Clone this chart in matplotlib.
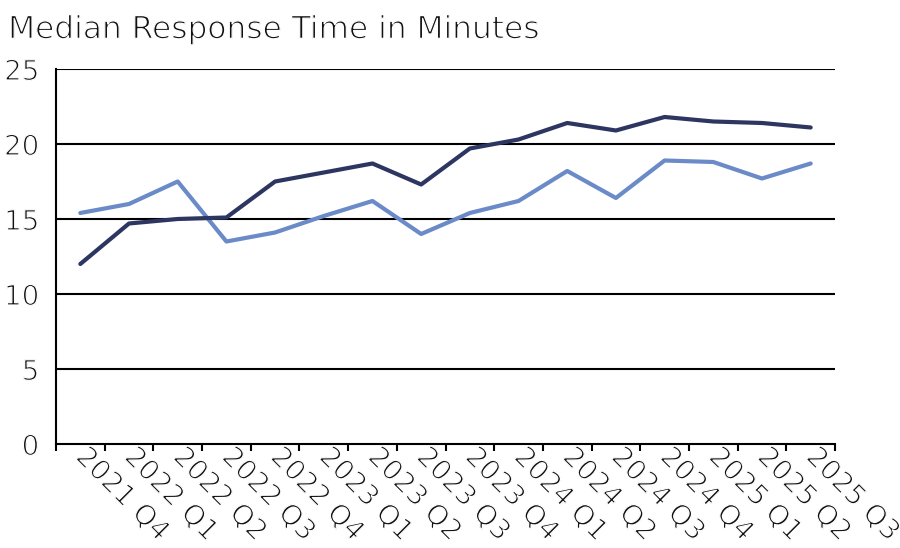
import matplotlib.pyplot as plt
import matplotlib.patheffects as pe
import numpy as np

quarters = ["2021 Q4", "2022 Q1", "2022 Q2", "2022 Q3", "2022 Q4",
            "2023 Q1", "2023 Q2", "2023 Q3", "2023 Q4", "2024 Q1",
            "2024 Q2", "2024 Q3", "2024 Q4", "2025 Q1", "2025 Q2", "2025 Q3"]
series_dark = [12.0, 14.7, 15.0, 15.1, 17.5, 18.1, 18.7, 17.3,
               19.7, 20.3, 21.4, 20.9, 21.8, 21.5, 21.4, 21.1]
series_light = [15.4, 16.0, 17.5, 13.5, 14.1, 15.2, 16.2, 14.0,
                15.4, 16.2, 18.2, 16.4, 18.9, 18.8, 17.7, 18.7]

plt.rcParams['font.family'] = ['DejaVu Sans']
text_color = "#111111"
# thin the glyphs a little with a white outline drawn over them
thin = [pe.Normal(), pe.Stroke(linewidth=0.9, foreground='white')]

fig = plt.figure(figsize=(9, 5.48), dpi=100)
ax = fig.add_axes([0.0622, 0.1898, 0.8656, 0.6843])

x = np.arange(len(quarters))
ax.plot(x, series_light, color="#6a8ac8", lw=3, solid_capstyle='round', zorder=3)
ax.plot(x, series_dark, color="#2d3561", lw=3, solid_capstyle='round', zorder=3)

ax.set_xlim(-0.5, len(quarters) - 0.5)
ax.set_ylim(0, 25)
ax.set_yticks(range(0, 26, 5))
ax.tick_params(axis='y', length=0, pad=12, labelsize=20, labelcolor=text_color)
for yv in range(5, 26, 5):
    ax.axhline(yv, color='black', lw=1.5, zorder=1)

# ticks sit between categories, labels at the centres
ax.set_xticks(np.arange(len(quarters) + 1) - 0.5, minor=False)
ax.set_xticklabels([])
ax.tick_params(axis='x', which='major', length=5, width=1.5, direction='out')
ax.set_xticks(x, minor=True)
ax.set_xticklabels(quarters, minor=True, rotation=-45, ha='left',
                   va='center', rotation_mode='anchor', fontsize=20,
                   color=text_color)
ax.tick_params(axis='x', which='minor', length=0, pad=6)

for lbl in ax.get_yticklabels() + ax.get_xticklabels(minor=True):
    lbl.set_path_effects(thin)

for side in ['top', 'right']:
    ax.spines[side].set_visible(False)
for side in ['left', 'bottom']:
    ax.spines[side].set_linewidth(1.5)

fig.text(0.009, 0.93, "Median Response Time in Minutes", fontsize=22.5,
         ha='left', va='baseline', color=text_color, path_effects=thin)

fig.savefig("out.png", dpi=100)
